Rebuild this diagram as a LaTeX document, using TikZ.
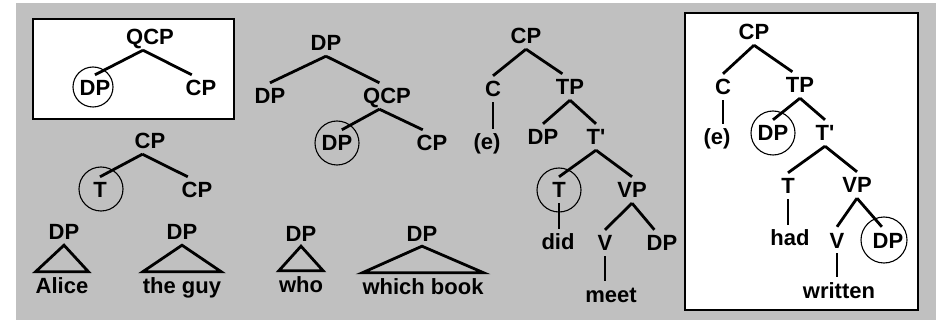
\documentclass[tikz,border=0pt]{standalone}
\usepackage{fontspec}
\setmainfont{Liberation Sans}
\usepackage{xcolor}
\usepackage{tikz}
\definecolor{bggray}{RGB}{192,192,192}
\tikzstyle{lab} = [font=\bfseries\fontsize{22}{26}\selectfont,inner xsep=0pt,inner ysep=5pt,text height=16pt,text depth=0pt]
\tikzstyle{branch} = [line width=2.8pt]
\tikzstyle{ring} = [circle,draw,line width=1.1pt,inner sep=0pt,minimum size=44pt]
\tikzstyle{frame} = [draw,line width=2.5pt,fill=white]

\begin{document}
\begin{tikzpicture}[x=1pt,y=-1pt]
        \useasboundingbox (0,0) rectangle (936,320);
        \fill[white] (0,0) rectangle (936,320);
        \fill[bggray] (16,3) rectangle (936,320);
        \path[frame] (33,19) rectangle (234,119);
        \path[frame] (685,13) rectangle (918,310);
        % QCP in the box
        \node[lab] (qcpA) at (150,37) {QCP};
        \node[lab] (dpA) at (95,88) {DP};
        \node[lab] (cpA) at (201,88) {CP};
        \node[ring,minimum size=40pt] at (93,87) {};
        \draw[branch] (qcpA.242) -- (dpA.north) (qcpA.242) -- (cpA.125);
        % CP with T
        \node[lab] (cpB) at (150,141) {CP};
        \node[lab] (tB) at (100,190) {T};
        \node[lab] (cpB2) at (197,190) {CP};
        \node[ring] at (101,189) {};
        \draw[branch] (cpB.240) -- (tB.north) (cpB.240) -- (cpB2.125);
        % DP triangles
        \node[lab] (dpAl) at (64,232) {DP};
        \node[lab] (alice) at (62,285) {Alice};
        \draw[branch] (dpAl.south) -- (alice.north west) -- (alice.north east) -- cycle;
        \node[lab] (dpGuy) at (182,232) {DP};
        \node[lab] (guy) at (182,285) {the guy};
        \draw[branch] (dpGuy.south) -- (guy.north west) -- (guy.north east) -- cycle;
        \node[lab] (dpWho) at (301,233) {DP};
        \node[lab] (who) at (301,284) {who};
        \draw[branch] (dpWho.south) -- (who.north west) -- (who.north east) -- cycle;
        \node[lab] (dpWb) at (422,233) {DP};
        \node[lab] (wbook) at (423,286) {which book};
        \draw[branch] (dpWb.south) -- (wbook.north west) -- (wbook.north east) -- cycle;
        % DP over QCP
        \node[lab] (dpC) at (326,43) {DP};
        \node[lab] (dpC1) at (270,96) {DP};
        \node[lab] (qcpC) at (387,96) {QCP};
        \node[lab] (dpC2) at (337,143) {DP};
        \node[lab] (cpC) at (432,143) {CP};
        \node[ring] at (337,143) {};
        \draw[branch] (dpC.south) -- (dpC1.north) (dpC.south) -- (qcpC.120);
        \draw[branch] (qcpC.240) -- (dpC2.70) (qcpC.240) -- (cpC.125);
        % did-tree
        \node[lab] (cpD) at (526,36) {CP};
        \node[lab] (cD) at (493,89) {C};
        \node[lab] (eD) at (487,142) {(e)};
        \node[lab] (tpD) at (570,87) {TP};
        \node[lab] (dpD) at (543,137) {DP};
        \node[lab] (tbD) at (596,137) {T\textquotesingle};
        \node[lab] (tD) at (559,190) {T};
        \node[lab] (didD) at (558,242) {did};
        \node[lab] (vpD) at (632,190) {VP};
        \node[lab] (vD) at (605,243) {V};
        \node[lab] (dpD2) at (662,243) {DP};
        \node[lab] (meetD) at (611,294) {meet};
        \node[ring] at (559,190) {};
        \draw[branch] (cpD.south) -- (cD.north) (cpD.south) -- (tpD.120);
        \draw[branch] (cD.south) -- (cD.south |- eD.north);
        \draw[branch] (tpD.south) -- (dpD.north) (tpD.south) -- (tbD.north);
        \draw[branch] (tbD.south) -- (tD.north) (tbD.south) -- (vpD.north);
        \draw[branch] (tD.south) -- (tD.south |- didD.north);
        \draw[branch] (vpD.south) -- (vD.north) (vpD.south) -- (dpD2.120);
        \draw[branch] (vD.south) -- (vD.south |- meetD.north);
        % had-tree in the box
        \node[lab] (cpE) at (754,32) {CP};
        \node[lab] (cE) at (723,87) {C};
        \node[lab] (eE) at (717,137) {(e)};
        \node[lab] (tpE) at (800,85) {TP};
        \node[lab] (dpE) at (773,133) {DP};
        \node[lab] (tbE) at (825,133) {T\textquotesingle};
        \node[lab] (tE) at (788,186) {T};
        \node[lab] (hadE) at (790,238) {had};
        \node[lab] (vpE) at (857,185) {VP};
        \node[lab] (vE) at (837,240) {V};
        \node[lab] (dpE2) at (888,240) {DP};
        \node[lab] (writtenE) at (839,290) {written};
        \node[ring] at (773,133) {};
        \node[ring,minimum size=46pt] at (884,240) {};
        \draw[branch] (cpE.south) -- (cE.north) (cpE.south) -- (tpE.120);
        \draw[branch] (cE.south) -- (cE.south |- eE.north);
        \draw[branch] (tpE.south) -- (dpE.north) (tpE.south) -- (tbE.north);
        \draw[branch] (tbE.south) -- (tE.north) (tbE.south) -- (vpE.north);
        \draw[branch] (tE.south) -- (tE.south |- hadE.north);
        \draw[branch] (vpE.south) -- (vE.north) (vpE.south) -- (dpE2.115);
        \draw[branch] (vE.south) -- (vE.south |- writtenE.north);
\end{tikzpicture}
\end{document}
